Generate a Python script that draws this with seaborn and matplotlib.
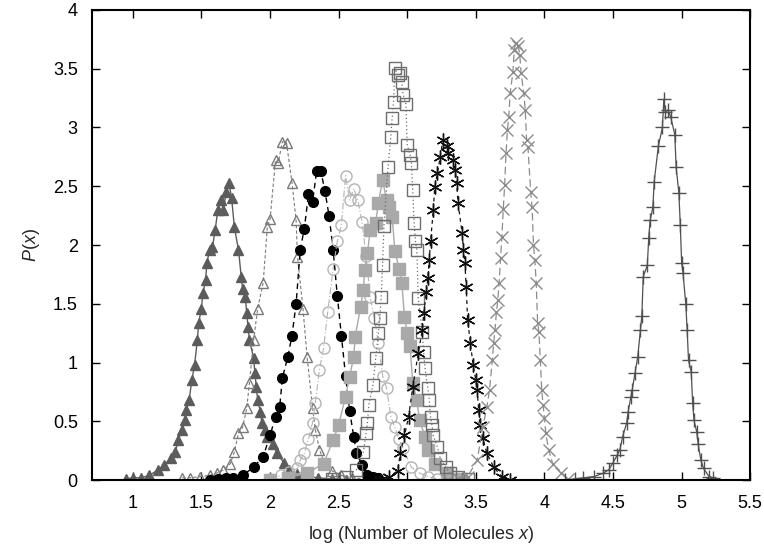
import seaborn as sns
import matplotlib
matplotlib.use('Agg')
import matplotlib.pyplot as plt
import pandas as pd

# 各条分布曲线的数据
x1 = [0.95, 1.0, 1.06, 1.12, 1.18, 1.23, 1.28, 1.31, 1.33, 1.36, 1.38, 1.39, 1.41, 1.43, 1.45, 1.47, 1.48, 1.50, 1.51, 1.53,
      1.54, 1.56, 1.58, 1.60, 1.62, 1.64, 1.66, 1.68, 1.70, 1.72, 1.74, 1.77, 1.79, 1.80, 1.82, 1.83, 1.84, 1.85, 1.88, 1.89,
      1.90, 1.91, 1.93, 1.94, 1.96, 1.98, 2.02, 2.05, 2.10, 2.14, 2.20, 2.27, 2.35, 2.45, 2.55]
y1 = [0.01, 0.02, 0.02, 0.04, 0.085, 0.13, 0.19, 0.24, 0.34, 0.43, 0.51, 0.60, 0.68, 0.85, 0.98, 1.19, 1.34, 1.46, 1.59, 1.70,
      1.85, 1.96, 1.98, 2.13, 2.30, 2.38, 2.30, 2.45, 2.53, 2.40, 2.15, 1.96, 1.73, 1.63, 1.56, 1.42, 1.30, 1.19, 1.04, 0.91,
      0.79, 0.68, 0.58, 0.49, 0.43, 0.37, 0.31, 0.23, 0.15, 0.09, 0.05, 0.03, 0.02, 0.01, 0.005]

x2 = [1.36, 1.42, 1.49, 1.56, 1.61, 1.66, 1.71, 1.74, 1.77, 1.80, 1.83, 1.85, 1.88, 1.91, 1.95, 1.98, 2.00, 2.04, 2.06, 2.09,
      2.12, 2.16, 2.19, 2.20, 2.24, 2.27, 2.31, 2.33, 2.36, 2.40, 2.45, 2.52, 2.60, 2.70, 2.80]
y2 = [0.02, 0.02, 0.03, 0.04, 0.06, 0.085, 0.14, 0.24, 0.40, 0.45, 0.61, 0.83, 1.19, 1.46, 1.68, 2.15, 2.22, 2.72, 2.70, 2.88,
      2.87, 2.53, 2.21, 1.90, 1.46, 1.05, 0.61, 0.43, 0.26, 0.14, 0.08, 0.04, 0.02, 0.01, 0.01]

x3 = [1.56, 1.62, 1.68, 1.73, 1.80, 1.88, 1.95, 2.00, 2.04, 2.07, 2.09, 2.13, 2.16, 2.19, 2.22, 2.25, 2.28, 2.31, 2.34, 2.37,
      2.40, 2.43, 2.46, 2.49, 2.52, 2.55, 2.58, 2.61, 2.63, 2.67, 2.71, 2.75, 2.79]
y3 = [0.0, 0.01, 0.015, 0.02, 0.04, 0.11, 0.20, 0.38, 0.54, 0.62, 0.87, 1.05, 1.23, 1.50, 1.96, 2.14, 2.43, 2.37, 2.63, 2.63,
      2.46, 2.25, 1.96, 1.57, 1.23, 0.89, 0.59, 0.37, 0.23, 0.13, 0.04, 0.03, 0.02]

x4 = [2.00, 2.08, 2.14, 2.20, 2.22, 2.25, 2.28, 2.31, 2.33, 2.36, 2.39, 2.42, 2.46, 2.49, 2.52, 2.55, 2.58, 2.61, 2.64, 2.67,
      2.70, 2.73, 2.76, 2.79, 2.82, 2.85, 2.88, 2.91, 2.94, 2.97, 3.03, 3.09, 3.15, 3.22, 3.30]
y4 = [0.01, 0.04, 0.07, 0.10, 0.17, 0.23, 0.35, 0.49, 0.66, 0.94, 1.12, 1.43, 1.80, 2.03, 2.17, 2.59, 2.38, 2.48, 2.38, 2.20,
      1.91, 1.56, 1.38, 1.17, 0.89, 0.78, 0.54, 0.45, 0.35, 0.27, 0.11, 0.06, 0.03, 0.01, 0.005]

x5 = [2.00, 2.13, 2.27, 2.39, 2.46, 2.50, 2.55, 2.58, 2.61, 2.62, 2.66, 2.68, 2.69, 2.71, 2.73, 2.77, 2.79, 2.82, 2.85, 2.87,
      2.89, 2.91, 2.94, 2.96, 2.98, 3.00, 3.02, 3.04, 3.07, 3.09, 3.13, 3.15, 3.20, 3.29, 3.39]
y5 = [0.0, 0.02, 0.06, 0.14, 0.34, 0.47, 0.71, 0.88, 1.05, 1.22, 1.47, 1.62, 1.79, 1.93, 2.13, 2.19, 2.36, 2.55, 2.38, 2.32,
      2.24, 1.95, 1.80, 1.68, 1.39, 1.25, 1.14, 0.83, 0.68, 0.51, 0.37, 0.26, 0.14, 0.06, 0.01]

x6 = [2.45, 2.55, 2.63, 2.68, 2.70, 2.71, 2.72, 2.75, 2.77, 2.79, 2.80, 2.81, 2.82, 2.83, 2.86, 2.88, 2.89, 2.90, 2.91, 2.93,
      2.95, 2.96, 2.97, 2.99, 3.00, 3.02, 3.03, 3.04, 3.05, 3.06, 3.07, 3.08, 3.11, 3.12, 3.13, 3.15, 3.16, 3.17, 3.18, 3.19,
      3.22, 3.24, 3.28, 3.31, 3.37, 3.44]
y6 = [0.01, 0.03, 0.09, 0.24, 0.40, 0.49, 0.64, 0.81, 1.04, 1.25, 1.38, 1.56, 1.83, 2.16, 2.66, 2.92, 3.08, 3.22, 3.51, 3.45,
      3.46, 3.39, 3.28, 3.20, 2.85, 2.77, 2.70, 2.47, 2.19, 2.03, 1.96, 1.55, 1.26, 1.09, 0.95, 0.78, 0.68, 0.54, 0.47, 0.38,
      0.28, 0.19, 0.11, 0.06, 0.03, 0.01]

x7 = [2.80, 2.87, 2.93, 2.95, 2.98, 3.01, 3.04, 3.08, 3.11, 3.12, 3.14, 3.15, 3.16, 3.17, 3.19, 3.20, 3.22, 3.24, 3.26, 3.29,
      3.30, 3.33, 3.35, 3.36, 3.37, 3.40, 3.41, 3.42, 3.43, 3.44, 3.46, 3.48, 3.50, 3.51, 3.52, 3.53, 3.55, 3.58, 3.63, 3.69,
      3.75]
y7 = [0.0, 0.03, 0.08, 0.23, 0.38, 0.54, 0.79, 1.08, 1.28, 1.42, 1.60, 1.72, 1.87, 2.03, 2.30, 2.49, 2.61, 2.75, 2.89, 2.84,
      2.78, 2.72, 2.64, 2.53, 2.36, 2.10, 1.96, 1.85, 1.64, 1.36, 1.17, 0.98, 0.85, 0.77, 0.60, 0.47, 0.36, 0.23, 0.11, 0.03,
      0.0]

x8 = [3.30, 3.38, 3.44, 3.51, 3.55, 3.58, 3.60, 3.62, 3.63, 3.64, 3.65, 3.66, 3.67, 3.68, 3.69, 3.70, 3.71, 3.72, 3.73, 3.74,
      3.75, 3.77, 3.78, 3.79, 3.81, 3.82, 3.83, 3.85, 3.86, 3.87, 3.88, 3.90, 3.91, 3.92, 3.93, 3.94, 3.95, 3.96, 3.97, 3.98,
      3.99, 4.00, 4.01, 4.03, 4.06, 4.12, 4.17]
y8 = [0.0, 0.01, 0.03, 0.17, 0.45, 0.62, 0.77, 1.02, 1.17, 1.28, 1.43, 1.53, 1.68, 1.89, 2.07, 2.31, 2.51, 2.78, 2.98, 3.09,
      3.29, 3.47, 3.66, 3.72, 3.69, 3.62, 3.46, 3.29, 3.15, 2.89, 2.83, 2.45, 2.32, 2.00, 1.87, 1.68, 1.34, 1.26, 1.02, 0.77,
      0.64, 0.53, 0.40, 0.26, 0.14, 0.06, 0.01]

x9 = [4.15, 4.22, 4.28, 4.36, 4.43, 4.47, 4.50, 4.53, 4.55, 4.57, 4.60, 4.61, 4.63, 4.64, 4.66, 4.68, 4.70, 4.71, 4.72, 4.75,
      4.76, 4.77, 4.79, 4.80, 4.83, 4.86, 4.87, 4.88, 4.90, 4.92, 4.95, 4.96, 4.98, 4.99, 5.00, 5.01, 5.03, 5.04, 5.05, 5.07,
      5.08, 5.09, 5.11, 5.12, 5.14, 5.16, 5.20, 5.23]
y9 = [0.0, 0.01, 0.02, 0.03, 0.06, 0.09, 0.15, 0.21, 0.26, 0.37, 0.49, 0.58, 0.71, 0.77, 0.91, 1.05, 1.28, 1.40, 1.73, 1.83,
      2.06, 2.21, 2.32, 2.54, 2.84, 3.00, 3.24, 3.13, 3.15, 3.09, 2.94, 2.66, 2.44, 2.17, 1.85, 1.76, 1.50, 1.28, 1.02, 0.92,
      0.66, 0.51, 0.41, 0.31, 0.17, 0.10, 0.03, 0.02]

series = [(x1, y1), (x2, y2), (x3, y3), (x4, y4), (x5, y5), (x6, y6), (x7, y7), (x8, y8), (x9, y9)]

# 每条曲线的样式：marker, 线型, 颜色, 填充, 大小
styles = [
    dict(marker='^', linestyle='-', color='#5c5c5c', mfc='#5c5c5c', ms=7, lw=1.0),
    dict(marker='^', linestyle=(0, (3, 2)), color='#7a7a7a', mfc='none', ms=7, lw=0.8),
    dict(marker='o', linestyle=(0, (4, 3)), color='#000000', mfc='#000000', ms=7, lw=1.0),
    dict(marker='o', linestyle=(0, (6, 2, 1, 2)), color='#b4b4b4', mfc='none', ms=8, lw=0.8),
    dict(marker='s', linestyle='-', color='#a9a9a9', mfc='#a9a9a9', ms=9, lw=1.0),
    dict(marker='s', linestyle=(0, (1, 2)), color='#6e6e6e', mfc='none', ms=8, lw=0.9),
    dict(marker=(6, 2, 0), linestyle=(0, (3, 3)), color='#111111', mfc='#111111', ms=10, lw=0.9),
    dict(marker='x', linestyle=(0, (6, 3)), color='#8c8c8c', mfc='none', ms=9, lw=0.9),
    dict(marker='+', linestyle='-', color='#505050', mfc='none', ms=10, lw=0.9),
]

sns.set_style('ticks')
plt.rcParams['font.family'] = ['Liberation Sans', 'DejaVu Sans']
plt.rcParams['mathtext.fontset'] = 'custom'
plt.rcParams['mathtext.it'] = 'Liberation Sans:italic'
plt.rcParams['mathtext.rm'] = 'Liberation Sans'

fig, ax = plt.subplots(figsize=(7.64, 5.5), dpi=100)
fig.subplots_adjust(left=0.12, right=0.982, bottom=0.127, top=0.982)

for (xs, ys), st in zip(series, styles):
    df = pd.DataFrame({'x': xs, 'y': ys})
    sns.lineplot(data=df, x='x', y='y', ax=ax, estimator=None, sort=False,
                 marker=st['marker'], linestyle=st['linestyle'], color=st['color'],
                 markerfacecolor=st['mfc'], markeredgecolor=st['color'],
                 markersize=st['ms'], markeredgewidth=1.0, linewidth=st['lw'])

ax.set_xlim(0.7, 5.5)
ax.set_ylim(0, 4)
ax.set_xticks([1, 1.5, 2, 2.5, 3, 3.5, 4, 4.5, 5, 5.5])
ax.set_xticklabels(['1', '1.5', '2', '2.5', '3', '3.5', '4', '4.5', '5', '5.5'])
ax.set_yticks([0, 0.5, 1, 1.5, 2, 2.5, 3, 3.5, 4])
ax.set_yticklabels(['0', '0.5', '1', '1.5', '2', '2.5', '3', '3.5', '4'])
ax.tick_params(direction='in', length=6, width=1, top=True, right=True, labelsize=13, colors='black')
ax.tick_params(axis='y', pad=10)
ax.tick_params(axis='x', pad=11)
for sp in ax.spines.values():
    sp.set_visible(True)
    sp.set_linewidth(1.5)
    sp.set_color('black')

ax.set_xlabel('log (Number of Molecules $x$)', fontsize=13, labelpad=8)
ax.set_ylabel('$P$($x$)', fontsize=13, labelpad=8)

plt.savefig('out.png', dpi=100)
